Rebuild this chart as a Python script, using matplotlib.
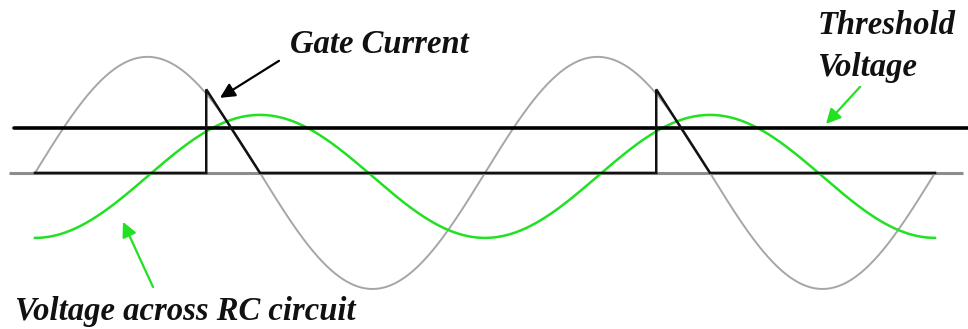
import numpy as np
import matplotlib
matplotlib.use('Agg')
import matplotlib.pyplot as plt

# supply voltage (gray), RC voltage (green), both in units of supply amplitude
theta = np.linspace(0, 720, 1441)          # degrees, two cycles
supply = np.sin(np.radians(theta))
rc_amp = 0.53
rc_offset = -0.03
rc_volt = rc_offset - rc_amp * np.cos(np.radians(theta))

threshold = 0.39
firing_deg = [137, 497]      # where RC voltage crosses threshold
gate_peak = 0.72
zero_deg = [180, 540]

# gate current trace: flat, jump at firing, ramp down to zero crossing
gate_x = [0]
gate_y = [0]
for f, z in zip(firing_deg, zero_deg):
    gate_x += [f, f, z]
    gate_y += [0, gate_peak, 0]
gate_x.append(720)
gate_y.append(0)

plt.rcParams['font.family'] = ['Liberation Serif', 'DejaVu Serif']

fig = plt.figure(figsize=(9.68, 3.29), dpi=100)
ax = fig.add_axes([0, 0, 1, 1])
ax.set_xlim(-28, 746.4)
ax.set_ylim(-1.345, 1.49)
ax.axis('off')

ax.plot([-21, 742], [0, 0], color='#8c8c8c', lw=2.2, solid_capstyle='butt')
ax.plot(theta, supply, color='#a6a6a6', lw=1.4)
ax.plot(theta, rc_volt, color='#22e022', lw=1.8)
ax.plot([-17, 746.4], [threshold, threshold], color='black', lw=2.6,
        solid_capstyle='round')
ax.plot(gate_x, gate_y, color='#111111', lw=1.8, solid_joinstyle='miter')

tfont = dict(fontsize=23.5, fontweight='bold', fontstyle='italic', color='#111111')
arrow_kw = dict(arrowstyle='-|>', lw=1.6, mutation_scale=22, shrinkA=0, shrinkB=0)

ax.text(204, 1.11, 'Gate Current', ha='left', va='center', **tfont)
ax.annotate('', xy=(148, 0.647), xytext=(195.2, 0.966),
            arrowprops=dict(color='black', **arrow_kw))

ax.text(626, 1.09, 'Threshold\nVoltage', ha='left', va='center',
        linespacing=1.45, **tfont)
ax.annotate('', xy=(632.8, 0.422), xytext=(660, 0.741),
            arrowprops=dict(color='#22e022', **arrow_kw))

ax.text(-16, -1.195, 'Voltage across RC circuit', ha='left', va='center', **tfont)
ax.annotate('', xy=(70.4, -0.422), xytext=(94.4, -0.983),
            arrowprops=dict(color='#22e022', **arrow_kw))

fig.savefig('out.png', dpi=100, facecolor='white')
